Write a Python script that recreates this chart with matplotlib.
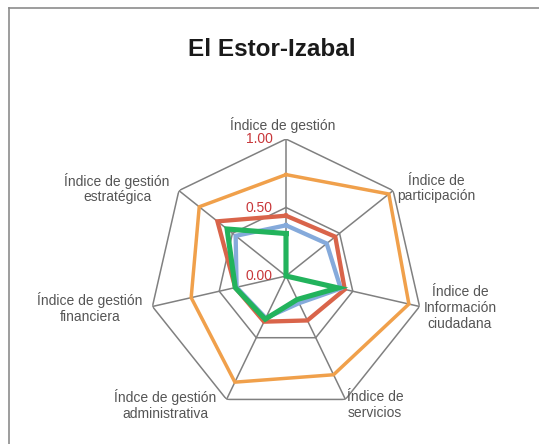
import numpy as np
import matplotlib
matplotlib.use('Agg')
import matplotlib.pyplot as plt
from matplotlib.lines import Line2D

# Categories (clockwise from the top)
categories = [
    'Índice de gestión',
    'Índice de\nparticipación',
    'Índice de\nInformación\nciudadana',
    'Índice de\nservicios',
    'Índce de gestión\nadministrativa',
    'Índice de gestión\nfinanciera',
    'Índice de gestión\nestratégica',
]

# Series values
orange_vals = [0.74, 0.96, 0.92, 0.80, 0.86, 0.71, 0.81]
red_vals = [0.44, 0.46, 0.44, 0.36, 0.37, 0.38, 0.64]
blue_vals = [0.37, 0.38, 0.41, 0.22, 0.34, 0.37, 0.47]
green_vals = [0.31, 0.00, 0.39, 0.19, 0.35, 0.38, 0.55]

ring_levels = [0.0, 0.5, 1.0]

W, H = 539, 444
fig = plt.figure(figsize=(W / 100, H / 100), dpi=100)
plt.rcParams['font.family'] = ['Liberation Sans', 'DejaVu Sans']

# chart centre and radius in pixels
cx, cy, R = 286, 276, 137
ax = fig.add_axes([(cx - R) / W, 1 - (cy + R) / H, 2 * R / W, 2 * R / H],
                  projection='polar')
ax.set_theta_offset(np.pi / 2)
ax.set_theta_direction(-1)
ax.set_ylim(0, 1)
ax.grid(False)
ax.set_xticks([])
ax.set_yticks([])
ax.spines['polar'].set_visible(False)
ax.patch.set_alpha(0)

n = len(categories)
theta = np.linspace(0, 2 * np.pi, n, endpoint=False)
theta_closed = np.append(theta, theta[0])

grid_col = '#808080'
# polygon rings
for lvl in ring_levels[1:]:
    ax.plot(theta_closed, [lvl] * (n + 1), color=grid_col, lw=1.1, zorder=1)
# spokes
for t in theta:
    ax.plot([t, t], [0, 1], color=grid_col, lw=1.1, zorder=1)

series = [
    (orange_vals, '#F0A04B', 2.5),
    (red_vals, '#D9644A', 3.1),
    (blue_vals, '#85AADB', 3.1),
    (green_vals, '#22B35C', 3.7),
]
for vals, col, lw in series:
    v = vals + vals[:1]
    ax.plot(theta_closed, v, color=col, lw=lw, solid_joinstyle='miter', zorder=3)

# radial tick labels
for lvl in ring_levels:
    ax.annotate(f'{lvl:.2f}', xy=(0, lvl), xytext=(-13, 0), textcoords='offset pixels',
                ha='right', va='center', color='#C8373A', fontsize=10, zorder=5)

# category labels (pixel positions of label centres)
label_pos = [(283, 124.5), (436, 188.5), (460, 308), (375, 405),
             (165, 405), (90, 308), (117, 188.5)]
for lab, (px, py) in zip(categories, label_pos):
    fig.text(px / W, 1 - py / H, lab, ha='center', va='center', color='#555555',
             fontsize=10, linespacing=1.15)

fig.text(272 / W, 1 - 49 / H, 'El Estor-Izabal', ha='center', va='center',
         fontsize=17.5, fontweight='bold', color='#1a1a1a')

# frame (top and left edges visible)
fx, fy = 8.5 / W, 1 - 8.3 / H
fig.add_artist(Line2D([fx, 1.0], [fy, fy], transform=fig.transFigure, color='#8c8c8c', lw=1.2))
fig.add_artist(Line2D([fx, fx], [0, fy], transform=fig.transFigure, color='#8c8c8c', lw=1.2))

fig.savefig('out.png', dpi=100)
plt.close(fig)
